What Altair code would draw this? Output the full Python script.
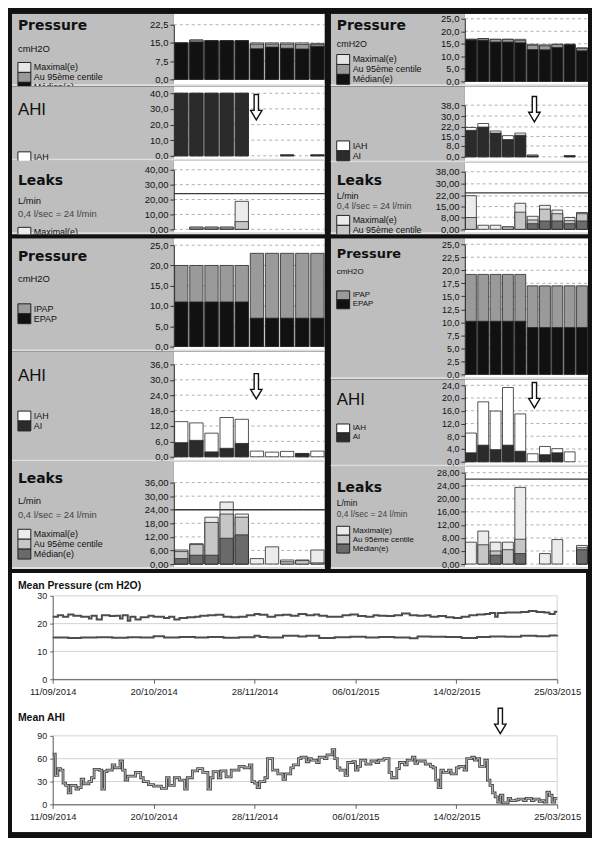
import altair as alt
import pandas as pd

FONT = "Liberation Sans"
TITLE_FONT = "DejaVu Sans"
BORDER = "#111111"
LABEL_BG = "#bebebe"
SEP = "#dedede"
ARROW_PATH = "M-0.17,-1L0.17,-1L0.17,0.25L0.45,0.25L0,1L-0.45,0.25L-0.17,0.25Z"

BARS = list(range(1, 11))

# ---------------- top-left block ----------------
TL_P_MAX = [15.0, 16.2, 15.9, 15.9, 15.9, 15.0, 15.0, 15.0, 15.0, 14.8]
TL_P_P95 = [15.0, 16.2, 15.9, 15.9, 15.9, 14.5, 14.5, 14.5, 14.4, 14.3]
TL_P_MED = [15.0, 15.4, 15.9, 15.9, 15.9, 12.6, 13.3, 12.8, 12.5, 13.6]
TL_P_TICKS = [0, 7.5, 15, 22.5]

TL_A_IAH = [40, 40, 40, 40, 40, 0, 0, 0.6, 0, 0.6]
TL_A_AI = [40, 40, 40, 40, 40, 0, 0, 0.6, 0, 0.6]
TL_A_TICKS = [0, 10, 20, 30, 40]

TL_L_MAX = [0, 1.6, 1.6, 1.6, 18.8, 0, 0, 0, 0, 0]
TL_L_P95 = [0, 0.9, 0.9, 0.9, 5.2, 0, 0, 0, 0, 0]
TL_L_MED = [0, 0, 0, 0, 0, 0, 0, 0, 0, 0]
TL_L_TICKS = [0, 10, 20, 30, 40]

# ---------------- top-right block ----------------
TR_P_MAX = [16.8, 17.1, 16.8, 16.8, 16.8, 14.8, 14.6, 14.8, 14.8, 13.4]
TR_P_P95 = [16.8, 17.1, 16.8, 16.8, 16.4, 14.4, 14.2, 14.8, 14.8, 13.2]
TR_P_MED = [16.5, 16.4, 15.7, 15.7, 15.4, 12.7, 12.6, 13.5, 14.6, 12.2]
TR_P_TICKS = [0, 5, 10, 15, 20, 25]

TR_A_IAH = [21.6, 24.5, 19.0, 15.6, 17.5, 1.4, 0, 0, 0.8, 0]
TR_A_AI = [19.5, 21.9, 17.5, 12.7, 15.9, 0.7, 0, 0, 0.8, 0]
TR_A_TICKS = [0, 8, 15, 22, 30, 38]

TR_L_MAX = [22.2, 2.7, 2.7, 1.6, 17.2, 8.6, 15.8, 12.7, 7.8, 11.1]
TR_L_P95 = [7.8, 0, 0, 1.6, 11.3, 6.2, 13.3, 10.3, 5.7, 10.3]
TR_L_MED = [0, 0, 0, 0, 0, 3.7, 5.5, 5.5, 3.7, 5.5]
TR_L_TICKS = [0, 8, 15, 22, 30, 38]

# ---------------- middle-left block ----------------
ML_P_IPAP = [20, 20, 20, 20, 20, 23, 23, 23, 23, 23]
ML_P_EPAP = [11, 11, 11, 11, 11, 7, 7, 7, 7, 7]
ML_P_TICKS = [0, 5, 10, 15, 20, 25]

ML_A_IAH = [13.7, 13.2, 9.2, 15.3, 14.6, 2.2, 1.8, 2.1, 1.3, 2.2]
ML_A_AI = [5.5, 6.4, 1.9, 3.3, 5.2, 0, 0, 0, 1.2, 0]
ML_A_TICKS = [0, 6, 12, 18, 24, 30, 36]

ML_L_MAX = [6.2, 9.0, 20.7, 27.4, 22.1, 2.4, 7.6, 1.8, 1.8, 6.2]
ML_L_P95 = [5.5, 8.6, 18.4, 22.1, 20.7, 0, 0, 1.0, 1.5, 0.5]
ML_L_MED = [2.4, 3.9, 3.9, 11.4, 12.9, 0, 0, 0, 0, 0]
ML_L_TICKS = [0, 6, 12, 18, 24, 30, 36]

# ---------------- middle-right block ----------------
MR_P_IPAP = [19.2, 19.2, 19.2, 19.2, 19.2, 17.0, 17.0, 17.0, 17.0, 17.0]
MR_P_EPAP = [10.2, 10.2, 10.2, 10.2, 10.2, 9.0, 9.0, 9.0, 9.0, 9.0]
MR_P_TICKS = [0, 2.5, 5, 7.5, 10, 12.5, 15, 17.5, 20, 22.5, 25]

MR_A_IAH = [9.0, 18.8, 15.9, 23.3, 15.0, 2.5, 4.8, 4.1, 3.1, 0]
MR_A_AI = [2.8, 5.2, 3.8, 5.2, 3.3, 0, 2.2, 2.8, 0, 0]
MR_A_TICKS = [0, 4, 8, 12, 16, 20, 24]

MR_L_MAX = [6.7, 10.1, 6.7, 6.7, 23.5, 0, 3.2, 7.5, 0, 5.7]
MR_L_P95 = [0, 5.9, 4.0, 4.4, 7.6, 0, 0, 0, 0, 5.0]
MR_L_MED = [0, 0, 2.7, 0, 3.2, 0, 0, 0, 0, 4.4]
MR_L_TICKS = [0, 4, 8, 12, 16, 20, 24, 28]

LEAK_LIMIT = 24
LEAK_LIMIT_MR = 26

# ---------------- bottom time series ----------------
START = "2014-09-11"
END = "2015-03-25"
X_TICK_DATES = ["2014-09-11", "2014-10-20", "2014-11-28", "2015-01-06", "2015-02-14", "2015-03-25"]

PU_DAYS = [0, 2, 4, 6, 8, 11, 14, 15, 17, 19, 22, 24, 26, 27, 29, 30, 32, 34, 37, 39,
           43, 45, 47, 49, 52, 55, 57, 60, 63, 66, 69, 72, 75, 78, 80, 83, 86, 89, 92, 95,
           98, 101, 103, 106, 109, 112, 115, 118, 121, 124, 126, 129, 132, 135, 138, 141,
           144, 146, 149, 152, 155, 158, 161, 164, 167, 169, 171, 172, 175, 178, 181, 184,
           187, 190, 192, 194, 195]
PU_VALS = [22.5, 23, 22.5, 23.3, 22.8, 22.5, 21.8, 22.8, 21.5, 23, 22.7, 22.8, 21.8, 23, 21,
           22.5, 21.5, 22.3, 22.8, 22.5, 22, 22.5, 21.5, 22, 22.3, 22.5, 22.8, 23, 23.2, 22.5,
           22.3, 22.5, 23, 23.5, 23.2, 22.5, 23, 23.2, 22.8, 23.5, 23, 23.3, 22.8, 22.5, 22.5,
           23, 23.3, 22.7, 22.5, 23, 22.8, 22.7, 23, 23.6, 23, 22.8, 23, 22.5, 22.7, 22.3,
           22, 22.5, 23, 23.3, 23.5, 23.8, 22.5, 23.8, 24, 24, 24.2, 24.5, 24.2, 24, 23.5,
           24.3, 24.3]
PL_DAYS = [0, 6, 11, 17, 23, 29, 34, 39, 43, 49, 55, 60, 66, 72, 78, 80, 83, 89, 95, 98,
           103, 109, 115, 121, 126, 132, 138, 141, 146, 152, 158, 164, 169, 175, 181, 187,
           192, 195]
PL_VALS = [15, 14.8, 15, 15.1, 14.9, 15.1, 15, 15.5, 15, 15.2, 15, 15.2, 14.9, 15.1, 15.6,
           15.2, 15, 15.6, 15.4, 15.6, 14.8, 15.1, 15.3, 15, 15.2, 15, 14.7, 15.4, 15.3, 15.2,
           14.8, 15.2, 15.4, 15.3, 15.6, 15.5, 15.7, 15.8]
P_TICKS = [0, 10, 20, 30]

AHI_DAYS = [0, 1, 2, 3, 4, 5, 6, 7, 9, 10, 11, 12, 14, 15, 16, 18, 19, 20, 21, 23,
            24, 26, 27, 28, 29, 32, 34, 35, 37, 39, 42, 44, 45, 47, 49, 51, 52, 54, 56, 58,
            60, 61, 62, 64, 65, 67, 69, 72, 74, 76, 77, 78, 79, 80, 82, 83, 85, 87, 89, 90,
            92, 93, 95, 96, 98, 99, 100, 102, 103, 105, 106, 108, 109, 110, 111, 113, 114, 116, 117, 118,
            119, 121, 123, 125, 126, 128, 130, 131, 133, 134, 136, 137, 139, 140, 141, 144, 146, 147, 148, 149,
            150, 151, 153, 154, 156, 157, 159, 160, 162, 163, 164, 165, 167, 168, 169, 170, 171, 172, 173, 174,
            176, 177, 179, 180, 182, 183, 185, 186, 188, 189, 190, 191, 192, 193, 194, 195]
AHI_VALS = [66, 38, 47, 45, 28, 25, 15, 25, 20, 22, 33, 27, 30, 35, 46, 45, 20, 43, 45, 52,
            48, 57, 45, 32, 37, 42, 35, 30, 26, 24, 21, 35, 25, 35, 32, 20, 35, 44, 47, 42,
            20, 35, 43, 35, 44, 36, 45, 50, 48, 52, 30, 28, 22, 30, 35, 60, 45, 40, 33, 40,
            48, 52, 60, 62, 56, 60, 58, 55, 62, 60, 65, 72, 60, 48, 45, 38, 55, 56, 45, 50,
            58, 53, 57, 55, 58, 60, 42, 35, 47, 55, 52, 58, 62, 54, 57, 53, 50, 48, 32, 22,
            45, 42, 45, 40, 48, 50, 45, 60, 62, 58, 60, 50, 58, 32, 25, 15, 10, 3, 12, 2,
            8, 5, 6, 7, 5, 8, 5, 7, 4, 5, 3, 16, 12, 3, 8, 8]
AHI_TICKS = [0, 30, 60, 90]
ARROW_DATE = "2015-03-03"

# ---------------- helpers ----------------
ONE = pd.DataFrame({"k": [0]})


def rect(x1, x2, y1, y2, color, stroke=None):
    kw = dict(color=color, clip=True)
    if stroke:
        kw.update(stroke=stroke, strokeWidth=1)
    else:
        kw.update(strokeWidth=0)
    return alt.Chart(ONE).mark_rect(**kw).encode(
        x=alt.value(x1), x2=alt.value(x2), y=alt.value(y1), y2=alt.value(y2))


def hline(x1, x2, y, color, width):
    return alt.Chart(ONE).mark_rule(color=color, strokeWidth=width).encode(
        x=alt.value(x1), x2=alt.value(x2), y=alt.value(y))


def label(text, x, y, size=10, weight="normal", color="#111111", font=FONT, align="left"):
    return alt.Chart(ONE).mark_text(text=text, align=align, baseline="middle", fontSize=size,
                                    fontWeight=weight, color=color, font=font, clip=True).encode(
        x=alt.value(x), y=alt.value(y))


def arrow_mark(data, **enc):
    return alt.Chart(data).mark_point(shape=ARROW_PATH, size=650, filled=True, fill="white",
                                      stroke="#111111", strokeWidth=1.4, opacity=1).encode(**enc)


def legend_block(entries, y0, row, lsize, limit):
    out = []
    for i, (name, color) in enumerate(entries):
        y = y0 + i * row
        if y >= limit - 2:
            break
        out.append(rect(6, 19, y, y + row, color, stroke="#222222"))
        out.append(label(name, 22, y + row / 2, size=lsize))
    return out


def panel(series, lw, w, top, h, bot, ymax, ticks, dec, legend_names, legend_y, texts,
          thresh=None, arrow=None, lsize=9, row=10, tsize=9.5):
    tw, th = lw + w, top + h + bot
    names = [s[0] for s in series]
    colors = [s[2] for s in series]
    cmap = dict(zip(names, colors))
    rows = []
    for o, (name, vals, _c) in enumerate(series):
        for b, v in zip(BARS, vals):
            if v > 0:
                rows.append({"bar": b, "s": name, "v": v, "o": o})
    df = pd.DataFrame(rows)
    ysc = alt.Scale(domain=[0, ymax], range=[top + h, top], nice=False, zero=True)
    fmt = "." + str(dec) + "f"
    yax = alt.Axis(values=ticks, labelExpr="replace(format(datum.value, '" + fmt + "'), '.', ',')",
                   title=None, grid=False, zindex=1, labelFontSize=tsize, labelFont=FONT,
                   labelColor="#111111", tickSize=4, tickColor="#333333", domainColor="#333333",
                   labelPadding=2, labelOverlap=False, offset=-lw, minExtent=0)
    xsc = alt.Scale(domain=BARS, range=[lw, lw + w], paddingInner=0.12, paddingOuter=0.05)
    grid = alt.Chart(pd.DataFrame({"v": ticks})).mark_rule(
        color="#9a9a9a", strokeDash=[3, 3], strokeWidth=0.8).encode(
        y=alt.Y("v:Q", scale=ysc, axis=yax), x=alt.value(lw), x2=alt.value(tw))
    bars = alt.Chart(df).mark_bar(stroke="#2a2a2a", strokeWidth=0.8).encode(
        x=alt.X("bar:O", scale=xsc, axis=None),
        y=alt.Y("v:Q", scale=ysc, axis=yax, stack=None),
        color=alt.Color("s:N", scale=alt.Scale(domain=names, range=colors), legend=None),
        order=alt.Order("o:Q"))
    layers = [rect(0, lw, 0, th, LABEL_BG), rect(lw, tw, 0, th, "white"), grid, bars]
    if thresh is not None:
        layers.append(alt.Chart(pd.DataFrame({"v": [thresh]})).mark_rule(
            color="#3a3a3a", strokeWidth=1.3).encode(
            y=alt.Y("v:Q", scale=ysc, axis=yax), x=alt.value(lw), x2=alt.value(tw)))
    layers.append(hline(0, tw, th - 1, SEP, 2))
    for t in texts:
        text, y, size = t[0], t[1], t[2]
        weight = t[3] if len(t) > 3 else "normal"
        color = t[4] if len(t) > 4 else "#111111"
        font = TITLE_FONT if weight == "bold" else FONT
        layers.append(label(text, 6, top + y, size=size, weight=weight, color=color, font=font))
    layers += legend_block([(n, cmap[n]) for n in legend_names], top + legend_y, row, lsize, th)
    if arrow is not None:
        layers.append(arrow_mark(ONE, x=alt.value(lw + arrow[0]), y=alt.value(top + arrow[1])))
    return alt.layer(*layers).properties(width=tw, height=th)


def grid_of(charts, columns, spacing):
    return alt.concat(*charts, columns=columns, spacing=spacing).resolve_scale(
        x="independent", y="independent", color="independent")


PR3 = ["Maximal(e)", "Au 95ème centile", "Médian(e)"]
C_PR = ["#e6e6e6", "#9a9a9a", "#111111"]
C_LK = ["#ececec", "#c6c6c6", "#6a6a6a"]
C_AHI = ["#ffffff", "#2b2b2b"]
C_PAP = ["#9a9a9a", "#111111"]

# ---- top-left ----
LW1, W1 = 163, 152
tl_p = panel([(PR3[0], TL_P_MAX, C_PR[0]), (PR3[1], TL_P_P95, C_PR[1]), (PR3[2], TL_P_MED, C_PR[2])],
             LW1, W1, 11, 55, 7, 22.5, TL_P_TICKS, 1, PR3, 38,
             [("Pressure", 1, 14, "bold"), ("cmH2O", 24, 9.5)])
tl_a = panel([("IAH", TL_A_IAH, C_AHI[0]), ("AI", TL_A_AI, C_AHI[1])],
             LW1, W1, 7, 63, 5, 40, TL_A_TICKS, 1, ["IAH", "AI"], 59,
             [("AHI", 17, 17)], arrow=(83, 14))
tl_l = panel([(PR3[0], TL_L_MAX, C_LK[0]), (PR3[1], TL_L_P95, C_LK[1]), (PR3[2], TL_L_MED, C_LK[2])],
             LW1, W1, 9, 60, 5, 40, TL_L_TICKS, 2, PR3, 58,
             [("Leaks", 11, 14, "bold"), ("L/min", 31, 9.5), ("0,4 l/sec = 24 l/min", 45, 9.5, "normal", "#444444")],
             thresh=LEAK_LIMIT)

# ---- top-right ----
LW2, W2 = 135, 124
tr_p = panel([(PR3[0], TR_P_MAX, C_PR[0]), (PR3[1], TR_P_P95, C_PR[1]), (PR3[2], TR_P_MED, C_PR[2])],
             LW2, W2, 5, 63, 5, 25, TR_P_TICKS, 1, PR3, 36,
             [("Pressure", 7, 14, "bold"), ("cmH2O", 25, 9)])
tr_a = panel([("IAH", TR_A_IAH, C_AHI[0]), ("AI", TR_A_AI, C_AHI[1])],
             LW2, W2, 19, 52, 6, 38, TR_A_TICKS, 1, ["IAH", "AI"], 36,
             [], arrow=(70, 4))
tr_l = panel([(PR3[0], TR_L_MAX, C_LK[0]), (PR3[1], TR_L_P95, C_LK[1]), (PR3[2], TR_L_MED, C_LK[2])],
             LW2, W2, 9, 58, 5, 38, TR_L_TICKS, 2, PR3, 44,
             [("Leaks", 9, 14, "bold"), ("L/min", 24, 9), ("0,4 l/sec = 24 l/min", 35, 9, "normal", "#444444")],
             thresh=LEAK_LIMIT)

# ---- middle-left ----
ml_p = panel([("IPAP", ML_P_IPAP, C_PAP[0]), ("EPAP", ML_P_EPAP, C_PAP[1])],
             LW1, W1, 7, 102, 5, 25, ML_P_TICKS, 1, ["IPAP", "EPAP"], 59,
             [("Pressure", 12, 14, "bold"), ("cmH2O", 34, 9.5)])
ml_a = panel([("IAH", ML_A_IAH, C_AHI[0]), ("AI", ML_A_AI, C_AHI[1])],
             LW1, W1, 13, 93, 5, 36, ML_A_TICKS, 1, ["IAH", "AI"], 47,
             [("AHI", 12, 17)], arrow=(83, 22))
ml_l = panel([(PR3[0], ML_L_MAX, C_LK[0]), (PR3[1], ML_L_P95, C_LK[1]), (PR3[2], ML_L_MED, C_LK[2])],
             LW1, W1, 21, 82, 5, 36, ML_L_TICKS, 2, PR3, 47,
             [("Leaks", -4, 14, "bold"), ("L/min", 19, 9.5), ("0,4 l/sec = 24 l/min", 33, 9.5, "normal", "#444444")],
             thresh=LEAK_LIMIT)

# ---- middle-right ----
mr_p = panel([("IPAP", MR_P_IPAP, C_PAP[0]), ("EPAP", MR_P_EPAP, C_PAP[1])],
             LW2, W2, 6, 131, 5, 25, MR_P_TICKS, 1, ["IPAP", "EPAP"], 47,
             [("Pressure", 10, 13, "bold"), ("cmH2O", 28, 8)], lsize=8, row=9, tsize=9)
mr_a = panel([("IAH", MR_A_IAH, C_AHI[0]), ("AI", MR_A_AI, C_AHI[1])],
             LW2, W2, 6, 77, 5, 24, MR_A_TICKS, 1, ["IAH", "AI"], 39,
             [("AHI", 15, 17)], arrow=(70, 10), lsize=8, row=9, tsize=9)
mr_l = panel([(PR3[0], MR_L_MAX, C_LK[0]), (PR3[1], MR_L_P95, C_LK[1]), (PR3[2], MR_L_MED, C_LK[2])],
             LW2, W2, 6, 92, 5, 28, MR_L_TICKS, 2, PR3, 54,
             [("Leaks", 15, 14, "bold"), ("L/min", 31, 8.5), ("0,4 l/sec = 24 l/min", 42, 8.5, "normal", "#444444")],
             thresh=LEAK_LIMIT_MR, lsize=8, row=9, tsize=9)

tl = grid_of([tl_p, tl_a, tl_l], 1, 0)
tr = grid_of([tr_p, tr_a, tr_l], 1, 0)
ml = grid_of([ml_p, ml_a, ml_l], 1, 0)
mr = grid_of([mr_p, mr_a, mr_l], 1, 0)
row1 = grid_of([tl, tr], 2, 4)
row2 = grid_of([ml, mr], 2, 4)


# ---------------- bottom line charts ----------------
def to_dt(s):
    t = pd.Timestamp(s)
    return alt.DateTime(year=t.year, month=t.month, date=t.day, utc=True)


def day_frame(days, vals):
    d0 = pd.Timestamp(START)
    return pd.DataFrame({"d": [(d0 + pd.Timedelta(days=int(x))).strftime("%Y-%m-%d") for x in days],
                         "v": vals})


LWB, WB, RB = 41, 508, 29


def line_panel(title, ymax, yticks, frames, top, h, bot, hollow=False, arrow_date=None):
    tw, th = LWB + WB + RB, top + h + bot
    xsc = alt.Scale(type="utc", domain=[to_dt(START), to_dt(END)], range=[LWB, LWB + WB])
    xax = alt.Axis(values=[to_dt(s) for s in X_TICK_DATES], format="%d/%m/%Y", title=None, grid=False,
                   zindex=1, labelFont=FONT, labelFontSize=9.5, labelColor="#222222",
                   tickColor="#666666", domainColor="#555555", tickSize=4, labelPadding=3,
                   labelFlush=False, labelOverlap=False, offset=-bot, minExtent=0, maxExtent=20)
    yax = alt.Axis(values=yticks, title=None, grid=False, zindex=1, labelFont=FONT, labelFontSize=9,
                   labelColor="#222222", tickSize=3, tickColor="#666666", domainColor="#555555",
                   labelPadding=3, offset=-LWB, minExtent=0)
    ysc = alt.Scale(domain=[0, ymax], range=[top + h, top], nice=False)
    layers = [rect(0, tw, 0, th, "white")]
    layers.append(alt.Chart(pd.DataFrame({"v": yticks})).mark_rule(color="#d4d4d4", strokeWidth=1).encode(
        y=alt.Y("v:Q", scale=ysc, axis=yax), x=alt.value(LWB), x2=alt.value(LWB + WB)))
    layers.append(alt.Chart(pd.DataFrame({"d": [END], "v": [0], "v2": [ymax]})).mark_rule(
        color="#d4d4d4", strokeWidth=1).encode(
        x=alt.X("d:T", scale=xsc, axis=xax), y=alt.Y("v:Q", scale=ysc, axis=yax), y2="v2:Q"))
    for f in frames:
        enc = dict(x=alt.X("d:T", scale=xsc, axis=xax), y=alt.Y("v:Q", scale=ysc, axis=yax))
        if hollow:
            layers.append(alt.Chart(f).mark_line(interpolate="step-after", color="#4a4a4a",
                                                 strokeWidth=2.8).encode(**enc))
            layers.append(alt.Chart(f).mark_line(interpolate="step-after", color="#c8c8c8",
                                                 strokeWidth=0.9).encode(**enc))
        else:
            layers.append(alt.Chart(f).mark_line(interpolate="step-after", color="#4d4d4d",
                                                 strokeWidth=2).encode(**enc))
    layers.append(label(title, 6, 13, size=10.5, weight="bold", font=FONT))
    if arrow_date is not None:
        layers.append(arrow_mark(pd.DataFrame({"d": [arrow_date]}),
                                 x=alt.X("d:T", scale=xsc, axis=xax), y=alt.value(top - 15)))
    return alt.layer(*layers).properties(width=tw, height=th)


mp = line_panel("Mean Pressure (cm H2O)", 30, P_TICKS,
                [day_frame(PU_DAYS, PU_VALS), day_frame(PL_DAYS, PL_VALS)], 23, 84, 26)
ma = line_panel("Mean AHI", 90, AHI_TICKS, [day_frame(AHI_DAYS, AHI_VALS)], 31, 69, 28,
                hollow=True, arrow_date=ARROW_DATE)
bottom = grid_of([mp, ma], 1, 0)

chart = grid_of([row1, row2, bottom], 1, 4).properties(padding=3).configure(
    background=BORDER).configure_view(stroke=None)

chart.save("out.html", embed_options={"renderer": "svg", "actions": False})
